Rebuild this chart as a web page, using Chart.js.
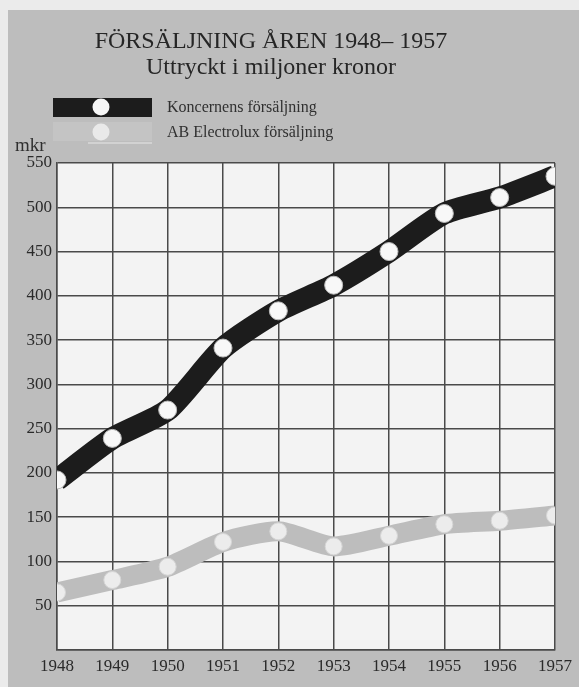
<!DOCTYPE html>
<html>
<head>
<meta charset="utf-8">
<script src="https://cdn.jsdelivr.net/npm/chart.js@4/dist/chart.umd.min.js"></script>
<style>
  body { margin: 0; background: #ebebeb; }
  #panel { position: absolute; left: 8px; top: 10px; right: 0; bottom: 0; background: #bdbdbd; }
  #wrap { position: absolute; left: 0; top: 0; width: 579px; height: 687px; }
</style>
</head>
<body>
<div id="panel"></div>
<div id="wrap"><canvas id="canvas"></canvas></div>
<script>
const years = ["1948", "1949", "1950", "1951", "1952", "1953", "1954", "1955", "1956", "1957"];
const koncernen = [192, 239, 271, 341, 383, 412, 450, 493, 511, 535];
const electrolux = [65, 79, 94, 122, 134, 117, 129, 142, 146, 152];
const yTicks = [50, 100, 150, 200, 250, 300, 350, 400, 450, 500, 550];

const serif = "'Liberation Serif', 'DejaVu Serif', serif";

// header: title, subtitle, own legend and the "mkr" unit
const header = {
  id: "header",
  beforeDatasetsDraw(chart) {
    const ctx = chart.ctx;
    ctx.save();
    ctx.fillStyle = "#262626";
    ctx.textAlign = "center";
    ctx.textBaseline = "alphabetic";
    ctx.font = "24px " + serif;
    ctx.fillText("FÖRSÄLJNING ÅREN 1948– 1957", 271, 48);
    ctx.font = "24px " + serif;
    ctx.fillText("Uttryckt i miljoner kronor", 271, 74);

    // legend rows
    ctx.fillStyle = "#1c1c1c";
    ctx.fillRect(53, 98, 99, 19);
    ctx.fillStyle = "#c4c4c4";
    ctx.fillRect(53, 122, 99, 19);
    ctx.strokeStyle = "#d2d2d2";
    ctx.lineWidth = 2;
    ctx.beginPath();
    ctx.moveTo(88, 143);
    ctx.lineTo(152, 143);
    ctx.stroke();

    ctx.beginPath();
    ctx.arc(101, 107, 8.5, 0, Math.PI * 2);
    ctx.fillStyle = "#f6f6f6";
    ctx.fill();
    ctx.beginPath();
    ctx.arc(101, 132, 8.5, 0, Math.PI * 2);
    ctx.fillStyle = "#e9e9e9";
    ctx.fill();

    ctx.textAlign = "left";
    ctx.fillStyle = "#303030";
    ctx.font = "16px " + serif;
    ctx.fillText("Koncernens försäljning", 167, 112);
    ctx.fillText("AB Electrolux försäljning", 167, 137);

    ctx.font = "19px " + serif;
    ctx.fillText("mkr", 15, 151);
    ctx.restore();
  },
  beforeDraw(chart) {
    const a = chart.chartArea;
    const ctx = chart.ctx;
    ctx.save();
    ctx.fillStyle = "#f3f3f3";
    ctx.fillRect(a.left, a.top, a.right - a.left, a.bottom - a.top);
    ctx.restore();
  }
};

const canvas = document.querySelector("#canvas");
const chart = new Chart(canvas, {
  type: "line",
  data: {
    labels: years,
    datasets: [
      {
        label: "AB Electrolux försäljning",
        data: electrolux,
        borderColor: "#bdbdbd",
        borderWidth: 20,
        tension: 0.22,
        pointRadius: 8.5,
        pointBackgroundColor: "#ececec",
        pointBorderColor: "#d6d6d6",
        pointBorderWidth: 1,
        clip: 0,
      },
      {
        label: "Koncernens försäljning",
        data: koncernen,
        borderColor: "#1c1c1c",
        borderWidth: 22,
        tension: 0.22,
        pointRadius: 9,
        pointBackgroundColor: "#f8f8f8",
        pointBorderColor: "#bbbbbb",
        pointBorderWidth: 1,
        clip: 0,
      },
    ],
  },
  options: {
    responsive: true,
    maintainAspectRatio: false,
    animation: false,
    layout: { padding: { top: 163, right: 24, left: 0, bottom: 0 } },
    plugins: {
      legend: { display: false },
      tooltip: { enabled: false },
    },
    scales: {
      x: {
        offset: false,
        grid: { color: "#4a4a4a", lineWidth: 1.5, drawTicks: false },
        border: { color: "#4a4a4a", width: 1.5 },
        ticks: { color: "#2a2a2a", font: { family: serif, size: 17 }, padding: 6, maxRotation: 0, autoSkip: false },
        afterFit(scale) { scale.height = 37; },
      },
      y: {
        min: 0,
        max: 550,
        grid: { color: "#4a4a4a", lineWidth: 1.5, drawTicks: false },
        border: { color: "#4a4a4a", width: 1.5 },
        afterBuildTicks(scale) { scale.ticks = [0].concat(yTicks).map(v => ({ value: v })); },
        ticks: {
          color: "#2a2a2a",
          font: { family: serif, size: 17 },
          padding: 5,
          callback: v => (v === 0 ? "" : v),
        },
        afterFit(scale) { scale.width = 57; },
      },
    },
  },
  plugins: [header],
});
</script>
</body>
</html>
